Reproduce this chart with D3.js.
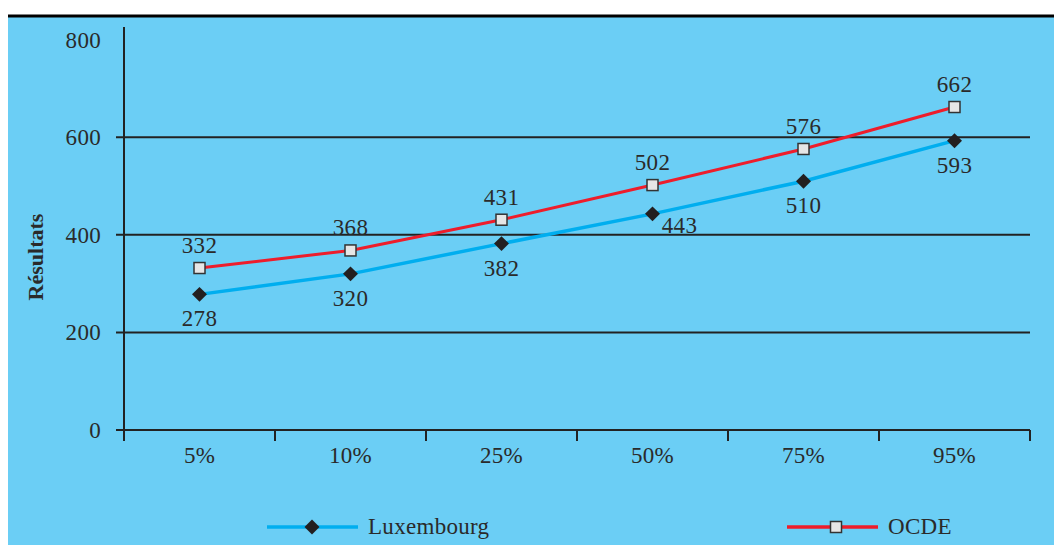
<!DOCTYPE html>
<html>
<head>
<meta charset="utf-8">
<script src="https://cdn.jsdelivr.net/npm/d3@7"></script>
<style>
    body { margin: 0; background: #fff; }
    text { font-family: "Liberation Serif", serif; fill: #2a2a2a; letter-spacing: 0.3px; }
</style>
</head>
<body>
<svg id="chart"></svg>
<script>
// percentile categories on the x axis
const categories = ["5%", "10%", "25%", "50%", "75%", "95%"];
// scores per percentile
const luxembourg = [278, 320, 382, 443, 510, 593];
const ocde = [332, 368, 431, 502, 576, 662];
// y axis ticks
const yTicks = [0, 200, 400, 600, 800];
const seriesNames = ["Luxembourg", "OCDE"];

function drawChart(width, height) {
    let svg = d3.select("#chart")
                .attr("width", width)
                .attr("height", height);

    // light blue panel with a black rule on top
    svg.append("rect")
        .attr("x", 8)
        .attr("y", 16)
        .attr("width", width - 8)
        .attr("height", height - 16)
        .attr("fill", "#6bcef5");

    svg.append("line")
        .attr("x1", 8).attr("x2", width)
        .attr("y1", 16).attr("y2", 16)
        .attr("stroke", "#000")
        .attr("stroke-width", 3);

    let padding = { left: 124, right: 1030, top: 27, bottom: 430 };
    let fontSize = "23px";

    let xScale = d3.scaleBand()
                    .domain(categories)
                    .range([padding.left, padding.right]);

    let yScale = d3.scaleLinear()
                    .domain([0, 826])
                    .range([padding.bottom, padding.top]);

    // horizontal grid lines (0 doubles as the x axis)
    svg.append("g")
        .selectAll("line")
        .data(yTicks.filter(d => d < 800))
        .enter()
        .append("line")
            .attr("x1", padding.left - 8)
            .attr("x2", padding.right)
            .attr("y1", d => yScale(d))
            .attr("y2", d => yScale(d))
            .attr("stroke", "#222")
            .attr("stroke-width", 2);

    // y axis labels
    let yAxis = d3.axisLeft(yScale)
                    .tickValues(yTicks)
                    .tickSize(0)
                    .tickPadding(23);

    let yG = svg.append("g")
        .attr("transform", `translate(${padding.left},0)`)
        .call(yAxis);
    yG.select(".domain").remove();
    yG.selectAll("text")
        .style("font-size", fontSize)
        .style("font-family", "Liberation Serif, serif")
        .attr("fill", "#2a2a2a");

    // y axis line
    svg.append("line")
        .attr("x1", padding.left).attr("x2", padding.left)
        .attr("y1", padding.top).attr("y2", padding.bottom + 11)
        .attr("stroke", "#222")
        .attr("stroke-width", 2);

    // tick marks at the band boundaries
    let edges = categories.map(c => xScale(c)).concat([padding.right]);
    svg.append("g")
        .selectAll("line")
        .data(edges.slice(1))
        .enter()
        .append("line")
            .attr("x1", d => d).attr("x2", d => d)
            .attr("y1", padding.bottom)
            .attr("y2", padding.bottom + 11)
            .attr("stroke", "#222")
            .attr("stroke-width", 2);

    // x axis labels
    let xAxis = d3.axisBottom(xScale).tickSize(0).tickPadding(17);
    let xG = svg.append("g")
        .attr("transform", `translate(0,${padding.bottom})`)
        .call(xAxis);
    xG.select(".domain").remove();
    xG.selectAll("text")
        .style("font-size", fontSize)
        .style("font-family", "Liberation Serif, serif")
        .attr("fill", "#2a2a2a");

    // y axis title
    svg.append("text")
        .attr("transform", "rotate(-90)")
        .attr("x", -257)
        .attr("y", 43)
        .style("text-anchor", "middle")
        .style("font-size", "22px")
        .style("font-weight", "bold")
        .style("letter-spacing", "0px")
        .text("Résultats");

    let cx = d => xScale(d) + xScale.bandwidth() / 2;
    let line = d3.line()
                .x(d => cx(d.cat))
                .y(d => yScale(d.value));

    let luxData = categories.map((c, i) => ({ cat: c, value: luxembourg[i] }));
    let ocdeData = categories.map((c, i) => ({ cat: c, value: ocde[i] }));

    // Luxembourg series
    svg.append("path")
        .datum(luxData)
        .attr("d", line)
        .attr("fill", "none")
        .attr("stroke", "#00aeef")
        .attr("stroke-width", 3.5);

    // OCDE series
    svg.append("path")
        .datum(ocdeData)
        .attr("d", line)
        .attr("fill", "none")
        .attr("stroke", "#ee1d2b")
        .attr("stroke-width", 3);

    let diamond = d3.symbol().type(d3.symbolSquare).size(112);

    svg.append("g")
        .selectAll("path")
        .data(luxData)
        .enter()
        .append("path")
            .attr("d", diamond)
            .attr("transform", d => `translate(${cx(d.cat)},${yScale(d.value)}) rotate(45)`)
            .attr("fill", "#231f20");

    svg.append("g")
        .selectAll("rect")
        .data(ocdeData)
        .enter()
        .append("rect")
            .attr("x", d => cx(d.cat) - 5.5)
            .attr("y", d => yScale(d.value) - 5.5)
            .attr("width", 11)
            .attr("height", 11)
            .attr("fill", "#e6e6e6")
            .attr("stroke", "#333")
            .attr("stroke-width", 1.5);

    // value labels: OCDE above, Luxembourg below (50% shifted right)
    svg.append("g")
        .selectAll("text")
        .data(ocdeData)
        .enter()
        .append("text")
            .attr("x", d => cx(d.cat))
            .attr("y", d => yScale(d.value) - 15)
            .style("text-anchor", "middle")
            .style("font-size", fontSize)
            .text(d => d.value);

    svg.append("g")
        .selectAll("text")
        .data(luxData)
        .enter()
        .append("text")
            .attr("x", d => cx(d.cat) + (d.cat === "50%" ? 27 : 0))
            .attr("y", d => yScale(d.value) + (d.cat === "50%" ? 19 : 32))
            .style("text-anchor", "middle")
            .style("font-size", fontSize)
            .text(d => d.value);

    // legend
    let legend = [
        { name: seriesNames[0], x: 267, color: "#00aeef", marker: "diamond" },
        { name: seriesNames[1], x: 787, color: "#ee1d2b", marker: "square" }
    ];
    let ly = 527;
    legend.forEach(l => {
        svg.append("line")
            .attr("x1", l.x).attr("x2", l.x + 91)
            .attr("y1", ly).attr("y2", ly)
            .attr("stroke", l.color)
            .attr("stroke-width", 3.5);
        if (l.marker === "diamond") {
            svg.append("path")
                .attr("d", diamond)
                .attr("transform", `translate(${l.x + 45},${ly}) rotate(45)`)
                .attr("fill", "#231f20");
        } else {
            svg.append("rect")
                .attr("x", l.x + 49 - 5.5)
                .attr("y", ly - 5.5)
                .attr("width", 11).attr("height", 11)
                .attr("fill", "#e6e6e6")
                .attr("stroke", "#333")
                .attr("stroke-width", 1.5);
        }
        svg.append("text")
            .attr("x", l.x + 101)
            .attr("y", ly + 7)
            .style("font-size", fontSize)
            .text(l.name);
    });
}

drawChart(1054, 545);
</script>
</body>
</html>
